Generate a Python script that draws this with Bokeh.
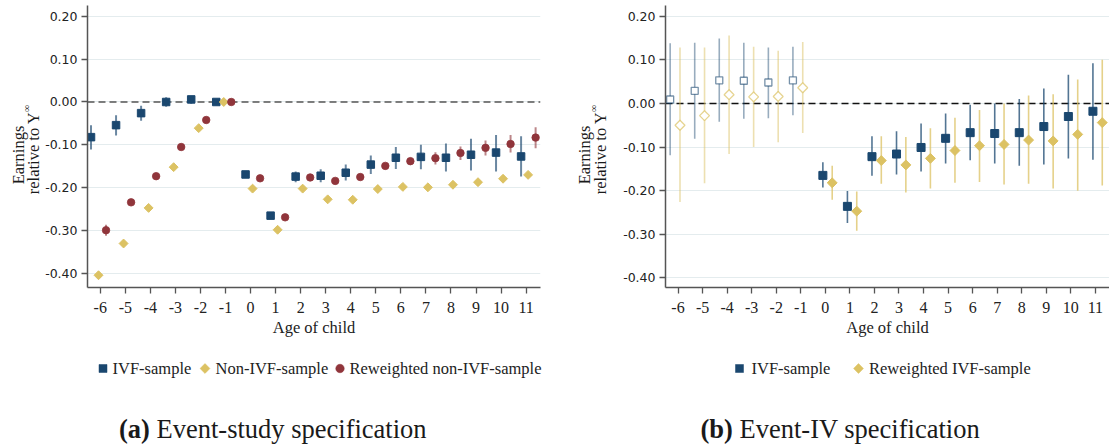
import numpy as np
from bokeh.plotting import figure
from bokeh.layouts import row, column
from bokeh.models import (ColumnDataSource, FixedTicker, NumeralTickFormatter, Range1d,
                          Span, Label)
from bokeh.embed import file_html
from bokeh.resources import INLINE

# ---------------- data ----------------
ages = list(range(-6, 12))
x_tick_labels = [str(a) for a in ages]
y_tick_values = [-0.4, -0.3, -0.2, -0.1, 0.0, 0.1, 0.2]

# (a) Event-study specification
a_ivf_est = [-0.082, -0.054, -0.026, 0.000, 0.006, 0.000, -0.169, -0.265, -0.174, -0.172,
             -0.165, -0.146, -0.130, -0.128, -0.130, -0.123, -0.118, -0.127]
a_ivf_lo = [-0.111, -0.078, -0.044, -0.011, -0.004, 0.000, -0.175, -0.270, -0.187, -0.187,
            -0.183, -0.168, -0.156, -0.157, -0.162, -0.160, -0.162, -0.174]
a_ivf_hi = [-0.054, -0.031, -0.009, 0.011, 0.012, 0.000, -0.163, -0.260, -0.162, -0.157,
            -0.146, -0.125, -0.105, -0.100, -0.097, -0.086, -0.077, -0.080]
a_nonivf_est = [-0.404, -0.330, -0.247, -0.152, -0.061, 0.000, -0.202, -0.298, -0.202, -0.227,
                -0.228, -0.203, -0.198, -0.199, -0.193, -0.187, -0.179, -0.170]
a_rw_est = [-0.299, -0.234, -0.173, -0.105, -0.042, 0.000, -0.178, -0.269, -0.176, -0.184,
            -0.175, -0.149, -0.138, -0.131, -0.119, -0.107, -0.098, -0.083]
a_rw_lo = [-0.312, -0.241, -0.179, -0.110, -0.046, 0.000, -0.182, -0.273, -0.180, -0.188,
           -0.179, -0.155, -0.146, -0.146, -0.135, -0.125, -0.118, -0.108]
a_rw_hi = [-0.286, -0.227, -0.167, -0.100, -0.038, 0.000, -0.174, -0.265, -0.172, -0.180,
           -0.171, -0.143, -0.130, -0.117, -0.104, -0.090, -0.077, -0.059]

# (b) Event-IV specification
b_ivf_est = [0.009, 0.029, 0.053, 0.052, 0.048, 0.053, -0.165, -0.236, -0.122, -0.116,
             -0.101, -0.080, -0.067, -0.069, -0.067, -0.053, -0.030, -0.018]
b_ivf_lo = [-0.119, -0.081, -0.042, -0.035, -0.034, -0.027, -0.193, -0.274, -0.166, -0.163,
            -0.156, -0.138, -0.130, -0.138, -0.143, -0.140, -0.126, -0.129]
b_ivf_hi = [0.138, 0.139, 0.149, 0.139, 0.128, 0.130, -0.135, -0.201, -0.075, -0.064,
            -0.046, -0.023, -0.003, 0.000, 0.010, 0.034, 0.066, 0.092]
b_rw_est = [-0.050, -0.028, 0.020, 0.015, 0.016, 0.036, -0.182, -0.247, -0.131, -0.141,
            -0.126, -0.108, -0.097, -0.094, -0.084, -0.086, -0.071, -0.044]
b_rw_lo = [-0.226, -0.183, -0.116, -0.100, -0.089, -0.068, -0.221, -0.292, -0.184, -0.204,
           -0.195, -0.182, -0.180, -0.186, -0.184, -0.195, -0.200, -0.188]
b_rw_hi = [0.128, 0.128, 0.156, 0.130, 0.121, 0.141, -0.143, -0.202, -0.075, -0.077,
           -0.057, -0.033, -0.015, 0.000, 0.018, 0.021, 0.055, 0.100]

legend_a_labels = ["IVF-sample", "Non-IVF-sample", "Reweighted non-IVF-sample"]
legend_b_labels = ["IVF-sample", "Reweighted IVF-sample"]
x_title = "Age of child"
y_title_1 = "Earnings"
y_title_2 = "relative to Y"
y_title_sup = "\u221e"
title_a = ("(a)", "Event-study specification")
title_b = ("(b)", "Event-IV specification")

# ---------------- style / layout ----------------
NAVY = "#1a476f"
GOLD = "#dcc263"
MAROON = "#90353b"
AXIS_C = "#555555"
GRID_C = "#e4ecee"
SERIF = "Liberation Serif"
TXT = "#1a1a1a"

H = 445
TOP_H = 343          # height of the chart row
BOT_H = H - TOP_H    # height of the legend / caption strip
FTOP, FBOT = 5, 287  # frame top / bottom in page pixels
XR = (-6.51, 11.575)
YR_A = (-0.4326, 0.225)
YR_B = (-0.422, 0.2245)
LEGEND_Y = 368
TITLE_Y = 428

ages_arr = np.array(ages, dtype=float)
pre = ages_arr < 0


def blank_fig(x0, width, height, ytop, ybot):
    # helper canvas whose data coordinates equal page pixels (y downward)
    p = figure(width=width, height=height, x_range=Range1d(x0, x0 + width),
               y_range=Range1d(ybot, ytop), x_axis_type=None, y_axis_type=None,
               output_backend="svg", toolbar_location=None,
               min_border_left=0, min_border_right=0, min_border_top=0, min_border_bottom=0)
    p.outline_line_color = None
    p.background_fill_color = "white"
    p.border_fill_color = "white"
    return p


def main_fig(width, left, right, yr, zero_color):
    p = figure(width=width, height=TOP_H, x_range=Range1d(*XR), y_range=Range1d(*yr),
               output_backend="svg", toolbar_location=None,
               min_border_left=left, min_border_right=right,
               min_border_top=FTOP, min_border_bottom=TOP_H - FBOT)
    p.outline_line_color = None
    p.background_fill_color = "white"
    p.border_fill_color = "white"
    p.xgrid.visible = False
    yt = FixedTicker(ticks=y_tick_values)
    p.yaxis.ticker = yt
    p.ygrid.ticker = yt
    p.ygrid.grid_line_color = GRID_C
    p.ygrid.grid_line_width = 1
    p.xaxis.ticker = FixedTicker(ticks=ages)
    p.xaxis.major_label_overrides = {a: lab for a, lab in zip(ages, x_tick_labels)}
    p.yaxis.formatter = NumeralTickFormatter(format="0.00")
    for ax in (p.xaxis[0], p.yaxis[0]):
        ax.axis_line_color = AXIS_C
        ax.axis_line_width = 1.5
        ax.major_tick_line_color = AXIS_C
        ax.major_tick_line_width = 1.3
        ax.major_tick_out = 6
        ax.major_tick_in = 0
        ax.minor_tick_line_color = None
        ax.major_label_text_color = "#222222"
    p.yaxis.major_label_text_font = "DejaVu Sans"
    p.yaxis.major_label_text_font_size = "12.5px"
    p.yaxis.major_label_standoff = 4
    p.xaxis.major_label_text_font = SERIF
    p.xaxis.major_label_text_font_size = "16px"
    p.xaxis.major_label_standoff = 8
    p.xaxis.axis_label = x_title
    p.xaxis.axis_label_text_font = SERIF
    p.xaxis.axis_label_text_font_style = "normal"
    p.xaxis.axis_label_text_font_size = "16.5px"
    p.xaxis.axis_label_text_color = "#222222"
    p.xaxis.axis_label_standoff = 2
    zero = Span(location=0, dimension="width", line_color=zero_color, line_width=1.4,
                line_dash="7 4", level="underlay")
    p.add_layout(zero)
    return p


def label(p, x, y, text, size, angle=0.0, align="center", baseline="middle",
          style="normal", color=TXT):
    p.add_layout(Label(x=x, y=y, text=text, angle=angle, text_align=align,
                       text_baseline=baseline, text_font=SERIF, text_font_size=size,
                       text_font_style=style, text_color=color))


def y_title_fig(x0, width, x_col1, x_col2, x_sup):
    # the frame of this helper is aligned with the chart frame (page y 5..287)
    p = blank_fig(x0, width, TOP_H, FTOP, FBOT)
    label(p, x_col1, 154.5, y_title_1, "16.5px", angle=np.pi / 2)
    label(p, x_col2, 152.5, y_title_2, "16.5px", angle=np.pi / 2)
    label(p, x_sup, 108, y_title_sup, "10px", angle=np.pi / 2)
    return p


def legend_strip(x0, width, keys, texts, key_x, text_x, title, title_x, rest_dx):
    p = blank_fig(x0, width, BOT_H, TOP_H, H)
    for (marker, color, angle, size), kx in zip(keys, key_x):
        p.scatter(x=[kx], y=[LEGEND_Y], marker=marker, angle=angle, size=size,
                  fill_color=color, line_color=color, line_width=0.5)
    for t, tx in zip(texts, text_x):
        label(p, tx, LEGEND_Y, t, "16.5px", align="left", color="#222222")
    label(p, title_x, TITLE_Y, title[0], "26.5px", align="left", style="bold")
    label(p, title_x + rest_dx, TITLE_Y, title[1], "26.5px", align="left")
    return p


# ================= panel (a) =================
WA = 555
YT_A = 42
FA0, FA1 = 86, 540
pa = main_fig(WA - YT_A, FA0 - YT_A, WA - FA1, YR_A, "#555555")

xa_ivf = ages_arr + np.where(pre, -0.37, -0.20)
xa_non = ages_arr + np.where(pre, -0.07, 0.08)
xa_rw = ages_arr + np.where(pre, 0.23, 0.38)

src_a_ivf = ColumnDataSource(dict(x=xa_ivf, y=a_ivf_est, lo=a_ivf_lo, hi=a_ivf_hi))
src_a_non = ColumnDataSource(dict(x=xa_non, y=a_nonivf_est))
src_a_rw = ColumnDataSource(dict(x=xa_rw, y=a_rw_est, lo=a_rw_lo, hi=a_rw_hi))

pa.segment(x0="x", y0="lo", x1="x", y1="hi", source=src_a_ivf, line_color=NAVY,
           line_alpha=0.65, line_width=2)
pa.segment(x0="x", y0="lo", x1="x", y1="hi", source=src_a_rw, line_color=MAROON,
           line_alpha=0.6, line_width=2)
pa.scatter("x", "y", source=src_a_ivf, marker="square", size=7.5,
           fill_color=NAVY, line_color=NAVY, line_width=1)
pa.scatter("x", "y", source=src_a_non, marker="square", angle=np.pi / 4, size=6.3,
           fill_color=GOLD, line_color=GOLD, line_width=1)
pa.scatter("x", "y", source=src_a_rw, marker="circle", size=7.5,
           fill_color=MAROON, line_color=MAROON, line_width=0.8)

yta = y_title_fig(0, YT_A, 18, 32.5, 25.5)
bota = legend_strip(0, WA,
                    keys=[("square", NAVY, 0.0, 8), ("square", GOLD, np.pi / 4, 7),
                          ("circle", MAROON, 0.0, 8.5)],
                    texts=legend_a_labels, key_x=[102.5, 204.5, 339.5],
                    text_x=[112, 215, 349],
                    title=title_a, title_x=118.5, rest_dx=37.5)

# ================= panel (b) =================
WB = 1109 - WA
YT_B = 56
FB0, FB1 = 665 - WA, 1109 - WA
pb = main_fig(WB - YT_B, FB0 - YT_B, 0, YR_B, "#111111")

xb_ivf = ages_arr + np.where(pre, -0.32, -0.10)
xb_rw = ages_arr + np.where(pre, 0.08, 0.28)

b_ivf = dict(x=xb_ivf, y=np.array(b_ivf_est), lo=np.array(b_ivf_lo), hi=np.array(b_ivf_hi))
b_rw = dict(x=xb_rw, y=np.array(b_rw_est), lo=np.array(b_rw_lo), hi=np.array(b_rw_hi))
src_b_ivf_pre = ColumnDataSource({k: v[pre] for k, v in b_ivf.items()})
src_b_ivf_post = ColumnDataSource({k: v[~pre] for k, v in b_ivf.items()})
src_b_rw_pre = ColumnDataSource({k: v[pre] for k, v in b_rw.items()})
src_b_rw_post = ColumnDataSource({k: v[~pre] for k, v in b_rw.items()})

pb.segment(x0="x", y0="lo", x1="x", y1="hi", source=src_b_ivf_pre, line_color=NAVY,
           line_alpha=0.45, line_width=1.6)
pb.segment(x0="x", y0="lo", x1="x", y1="hi", source=src_b_rw_pre, line_color=GOLD,
           line_alpha=0.5, line_width=1.6)
pb.segment(x0="x", y0="lo", x1="x", y1="hi", source=src_b_ivf_post, line_color=NAVY,
           line_alpha=0.75, line_width=1.6)
pb.segment(x0="x", y0="lo", x1="x", y1="hi", source=src_b_rw_post, line_color=GOLD,
           line_alpha=0.75, line_width=1.6)

pb.scatter("x", "y", source=src_b_ivf_pre, marker="square", size=7, fill_color="white",
           line_color=NAVY, line_alpha=0.6, line_width=1.3)
pb.scatter("x", "y", source=src_b_rw_pre, marker="square", angle=np.pi / 4, size=7,
           fill_color="white", line_color=GOLD, line_alpha=0.7, line_width=1.3)
pb.scatter("x", "y", source=src_b_ivf_post, marker="square", size=8,
           fill_color=NAVY, line_color=NAVY, line_width=1)
pb.scatter("x", "y", source=src_b_rw_post, marker="square", angle=np.pi / 4, size=7,
           fill_color=GOLD, line_color=GOLD, line_width=1)

ytb = y_title_fig(WA, YT_B, 584, 599.5, 592.5)
botb = legend_strip(WA, WB,
                    keys=[("square", NAVY, 0.0, 8), ("square", GOLD, np.pi / 4, 7)],
                    texts=legend_b_labels, key_x=[739, 858], text_x=[751, 868.5],
                    title=title_b, title_x=700, rest_dx=39)

layout = row(column(row(yta, pa), bota), column(row(ytb, pb), botb))
open("out.html", "w").write(file_html(layout, INLINE))
